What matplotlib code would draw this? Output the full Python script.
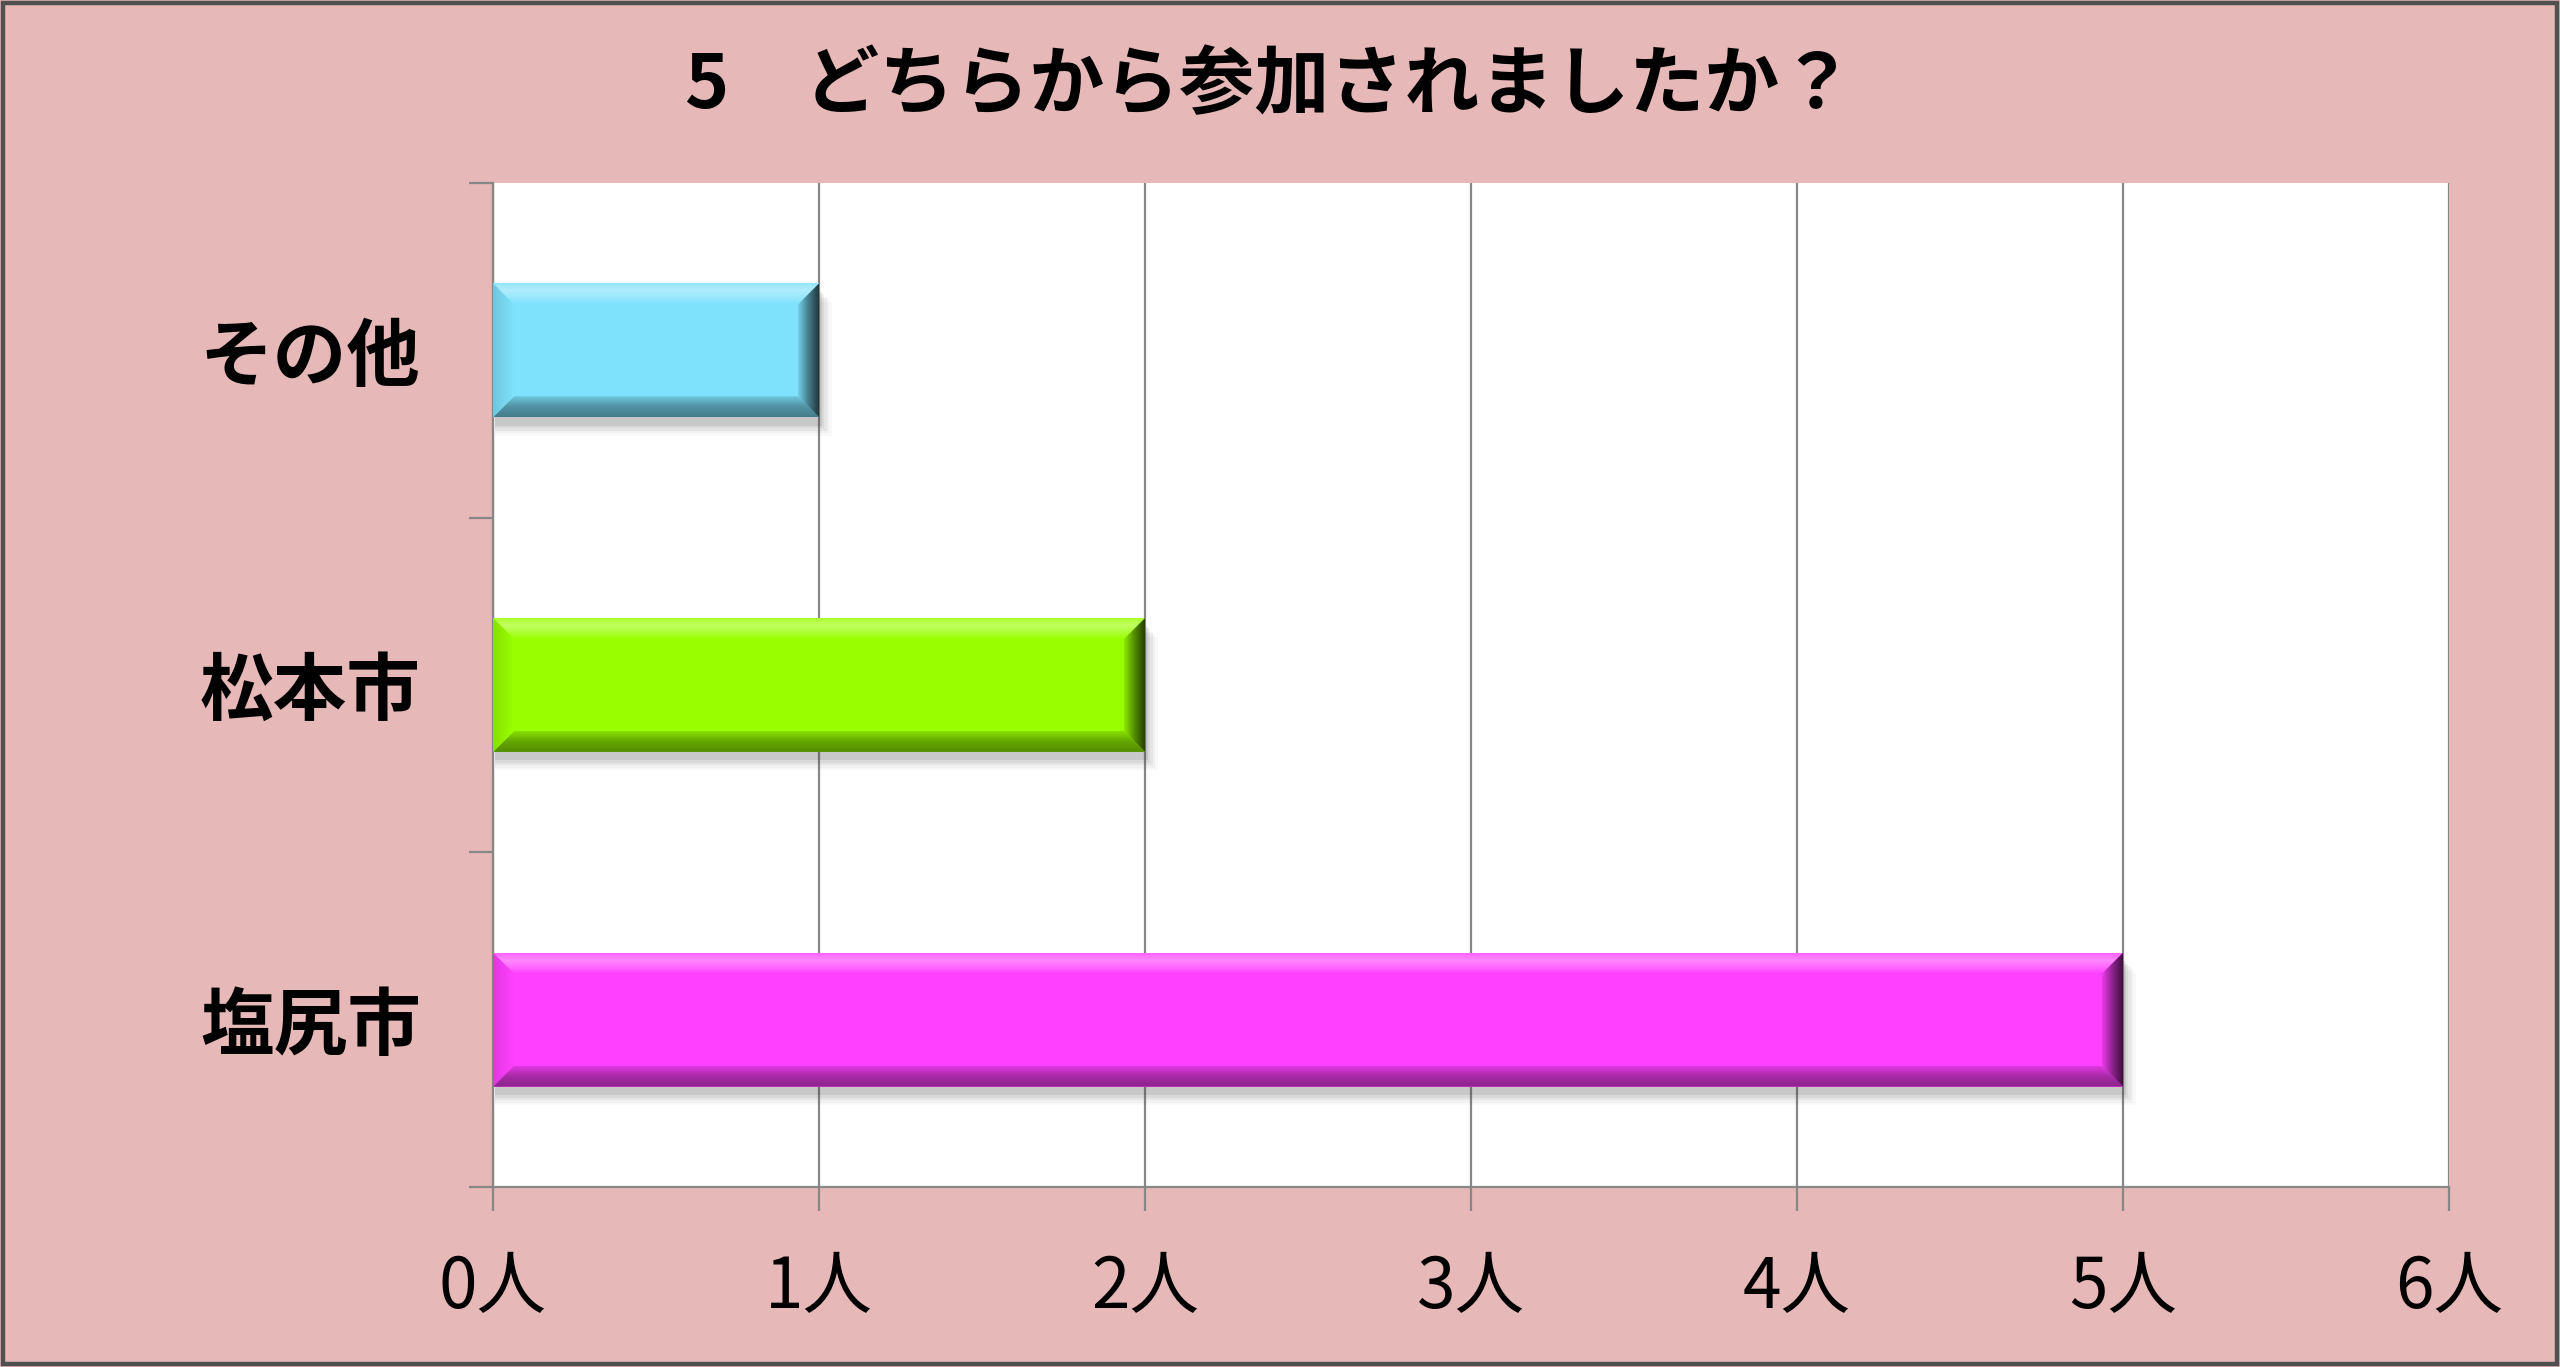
import matplotlib
matplotlib.use("Agg")
import matplotlib.pyplot as plt
import numpy as np
from matplotlib.patches import Polygon, Rectangle
from matplotlib.ticker import FixedLocator
from matplotlib.colors import LinearSegmentedColormap, to_rgb

plt.rcParams['font.family'] = ['Noto Sans CJK JP', 'DejaVu Sans']

# ---- data ----
title = "5　どちらから参加されましたか？"
categories = ["塩尻市", "松本市", "その他"]          # bottom -> top
values = [5, 2, 1]
xticks = [0, 1, 2, 3, 4, 5, 6]
xtick_labels = ["0人", "1人", "2人", "3人", "4人", "5人", "6人"]
bar_colors = ["#FF40FF", "#99FF00", "#7FE2FC"]

BG = "#E6B8B7"
GRID = "#878787"


def mix(c, other, t):
    a = np.array(to_rgb(c))
    b = np.array(to_rgb(other))
    return tuple(a * (1 - t) + b * t)


W, H = 2560, 1367
DPI = 100
fig = plt.figure(figsize=(W / DPI, H / DPI), dpi=DPI, facecolor=BG)

fig.patches.append(Rectangle((3 / W, 3 / H), (W - 6) / W, (H - 6) / H,
                             transform=fig.transFigure, fill=False,
                             edgecolor="#505050", linewidth=3.2, zorder=10))

ax_left, ax_right, ax_top, ax_bottom = 493, 2449, 183, 1187
ax = fig.add_axes([ax_left / W, (H - ax_bottom) / H,
                   (ax_right - ax_left) / W, (ax_bottom - ax_top) / H])
ax.set_facecolor("white")
ax.set_xlim(0, 6)
ax.set_ylim(-0.5, len(categories) - 0.5)

px_x = 6 / (ax_right - ax_left)
px_y = len(categories) / (ax_bottom - ax_top)

bar_h = 0.4
bev = 21  # px

ax.set_axisbelow(True)
ax.xaxis.grid(True, color=GRID, linewidth=1.6)


def gradient_poly(pts, colors, direction, z=4):
    """Fill polygon with linear gradient. direction: 'up','down','left','right'
    means gradient goes from colors[0] (outer) to colors[-1] (inner)."""
    poly = Polygon(pts, closed=True, facecolor="none", edgecolor="none")
    ax.add_patch(poly)
    xs = [p[0] for p in pts]
    ys = [p[1] for p in pts]
    cmap = LinearSegmentedColormap.from_list("g", colors)
    n = 64
    g = np.linspace(0, 1, n)
    if direction == "top":       # outer at top
        img = g[:, None]         # row 0 -> ymin (origin lower)
        img = img[::-1]
    elif direction == "bottom":  # outer at bottom
        img = g[:, None][::-1][::-1]
        img = g[:, None]
    elif direction == "left":
        img = g[None, :]
    else:                        # right: outer at right
        img = g[None, :][:, ::-1]
    im = ax.imshow(img, cmap=cmap, vmin=0, vmax=1, origin="lower",
                   extent=(min(xs), max(xs), min(ys), max(ys)),
                   aspect="auto", interpolation="bilinear", zorder=z)
    im.set_clip_path(poly)


for i, (cat, v) in enumerate(zip(categories, values)):
    main = bar_colors[i]
    y0, y1 = i - bar_h / 2, i + bar_h / 2
    x0, x1 = 0, v
    # soft drop shadow
    for k, a in enumerate([0.10, 0.08, 0.06, 0.04, 0.03]):
        grow = (k + 1) * 2.5
        ax.add_patch(Rectangle((x0 + 2 * px_x, y0 - (6 + grow) * px_y),
                               v + (grow - 2) * px_x, bar_h,
                               facecolor="#404040", edgecolor="none",
                               alpha=a, zorder=2))
    ax.barh(i, v, height=bar_h, color=main, edgecolor="none", zorder=3)
    bx, by = bev * px_x, bev * px_y
    # top bevel: outer slightly light, highlight band, inner main
    gradient_poly([(x0, y1), (x1, y1), (x1 - bx, y1 - by), (x0 + bx, y1 - by)],
                  [mix(main, "white", 0.18), mix(main, "white", 0.38),
                   mix(main, "white", 0.22), main], "top")
    # bottom bevel: dark outer
    gradient_poly([(x0, y0), (x1, y0), (x1 - bx, y0 + by), (x0 + bx, y0 + by)],
                  [mix(main, "black", 0.45), mix(main, "black", 0.35),
                   mix(main, "black", 0.12)], "bottom")
    # left bevel
    gradient_poly([(x0, y0), (x0, y1), (x0 + bx, y1 - by), (x0 + bx, y0 + by)],
                  [mix(main, "black", 0.12), main], "left")
    # right bevel: darkest
    gradient_poly([(x1, y0), (x1, y1), (x1 - bx, y1 - by), (x1 - bx, y0 + by)],
                  [mix(main, "black", 0.75), mix(main, "black", 0.45),
                   mix(main, "black", 0.08)], "right")

for s in ["top", "right"]:
    ax.spines[s].set_visible(False)
for s in ["left", "bottom"]:
    ax.spines[s].set_color(GRID)
    ax.spines[s].set_linewidth(1.6)

ax.set_xticks(xticks)
ax.set_xticklabels(xtick_labels, fontsize=50, color="black")
ax.tick_params(axis="x", length=17, width=1.6, color=GRID, pad=30)

ax.set_yticks(range(len(categories)))
ax.set_yticklabels(categories, fontsize=53, fontweight="bold", color="black")
ax.tick_params(axis="y", which="major", length=0, pad=52)
ax.yaxis.set_minor_locator(FixedLocator([k - 0.5 for k in range(len(categories) + 1)]))
ax.tick_params(axis="y", which="minor", length=17, width=1.6, color=GRID)

ax.set_xlim(0, 6)
ax.set_ylim(-0.5, len(categories) - 0.5)

fig.text(1270 / W, 1 - 86 / H, title, fontsize=54, fontweight="bold",
         ha="center", va="center", color="black")

fig.savefig("out.png", dpi=DPI, facecolor=BG)
